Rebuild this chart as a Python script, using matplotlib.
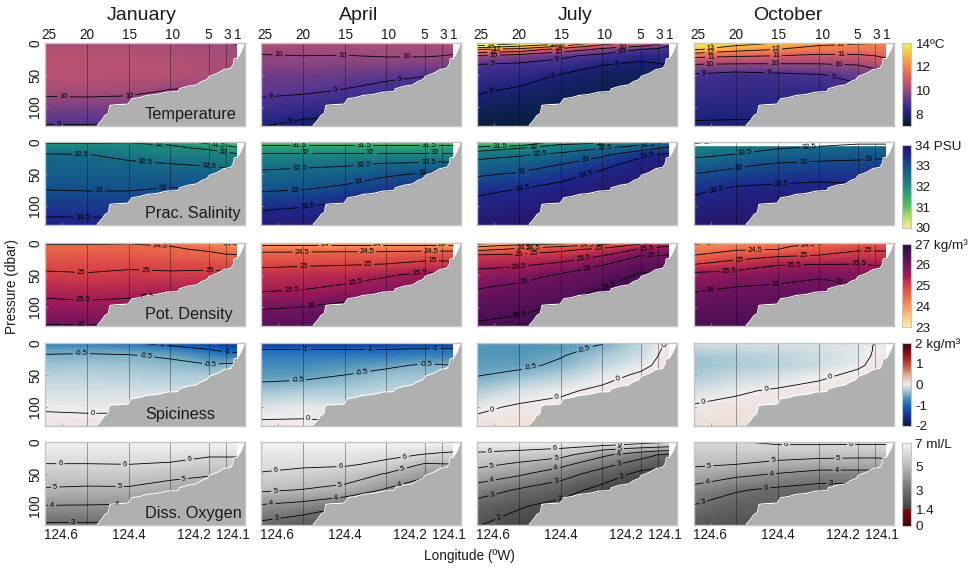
import matplotlib
matplotlib.use('Agg')
import numpy as np
import matplotlib.pyplot as plt
from matplotlib.colors import LinearSegmentedColormap, Normalize
from matplotlib.cm import ScalarMappable

plt.rcParams['font.family'] = ['Liberation Sans', 'DejaVu Sans']

MONTHS = ['January', 'April', 'July', 'October']
ROW_NAMES = ['Temperature', 'Prac. Salinity', 'Pot. Density', 'Spiciness', 'Diss. Oxygen']

STATIONS = ['25', '20', '15', '10', '5', '3', '1']
STATION_LON = [124.649, 124.529, 124.409, 124.291, 124.18, 124.131, 124.10]
PRESSURE = [0, 5, 10, 20, 35, 50, 75, 100, 130]

FLOOR_LON = [124.077, 124.084, 124.091, 124.099, 124.108, 124.110, 124.117, 124.137, 124.153,
             124.167, 124.179, 124.185, 124.201, 124.215, 124.239, 124.265, 124.268, 124.301,
             124.329, 124.358, 124.377, 124.401, 124.411, 124.449, 124.463, 124.468, 124.477,
             124.487, 124.499]
FLOOR_P = [0, 10.4, 18.2, 25, 26, 33.8, 40.6, 42.6, 47.8, 51, 53, 58.2, 61.4, 66.6, 68.6, 72.8,
           77, 78, 81.6, 83.2, 86.3, 88.4, 96.7, 97.8, 98.8, 111.8, 114.4, 122.2, 130]

TEMP_JAN = [[10.2, 10.2, 10.2, 10.15, 10.1, 10.02, 9.95],
            [10.3, 10.3, 10.3, 10.25, 10.2, 10.15, 10.05],
            [10.4, 10.4, 10.35, 10.3, 10.25, 10.2, 10.1],
            [10.5, 10.5, 10.45, 10.4, 10.3, 10.25, 10.2],
            [10.55, 10.55, 10.5, 10.45, 10.35, 10.3, 10.25],
            [10.55, 10.55, 10.5, 10.45, 10.35, 10.3, 10.25],
            [10.22, 10.25, 10.2, 9.95, 9.9, 9.8, 9.8],
            [9.6, 9.6, 9.55, 9.5, 9.4, 9.3, 9.3],
            [8.95, 8.95, 8.9, 8.9, 8.9, 8.9, 8.9]]
TEMP_APR = [[10.4, 10.4, 10.4, 10.4, 10.4, 10.4, 10.4],
            [10.3, 10.3, 10.3, 10.3, 10.3, 10.3, 10.3],
            [10.2, 10.2, 10.2, 10.2, 10.2, 10.2, 10.2],
            [9.95, 10.0, 9.98, 10.05, 10.05, 10.0, 9.95],
            [9.75, 9.75, 9.7, 9.65, 9.6, 9.55, 9.5],
            [9.45, 9.42, 9.35, 9.2, 9.05, 9.0, 8.95],
            [9.2, 9.12, 8.95, 8.7, 8.5, 8.5, 8.5],
            [8.7, 8.55, 8.4, 8.3, 8.2, 8.1, 8.1],
            [8.05, 7.7, 7.6, 7.6, 7.6, 7.6, 7.6]]
TEMP_JUL = [[14.6, 14.3, 13.5, 11.6, 10.6, 10.3, 9.9],
            [13.9, 13.0, 12.0, 10.5, 10.0, 9.5, 9.0],
            [12.0, 11.7, 10.6, 9.8, 9.0, 8.8, 8.7],
            [10.0, 9.6, 9.2, 8.7, 8.3, 8.35, 8.4],
            [8.9, 8.8, 8.6, 8.0, 7.8, 7.9, 8.0],
            [8.55, 8.4, 7.95, 7.7, 7.6, 7.65, 7.7],
            [8.1, 7.85, 7.7, 7.5, 7.4, 7.4, 7.4],
            [7.7, 7.55, 7.45, 7.3, 7.25, 7.25, 7.25],
            [7.25, 7.2, 7.15, 7.1, 7.1, 7.1, 7.1]]
TEMP_OCT = [[14.0, 13.5, 13.0, 12.4, 12.1, 12.05, 12.05],
            [13.6, 12.9, 12.5, 11.9, 11.8, 11.8, 11.8],
            [13.15, 12.35, 12.0, 11.7, 11.6, 11.55, 11.6],
            [11.25, 11.1, 11.0, 10.8, 10.85, 11.0, 11.15],
            [9.85, 9.8, 9.8, 9.85, 9.97, 10.3, 10.5],
            [8.9, 8.65, 8.8, 8.95, 9.3, 9.45, 9.5],
            [8.6, 8.5, 8.45, 8.45, 8.7, 8.9, 9.0],
            [8.25, 8.2, 8.2, 8.2, 8.3, 8.3, 8.3],
            [7.9, 7.9, 7.9, 7.9, 7.9, 7.9, 7.9]]

SAL_JAN = [[31.95, 31.95, 31.97, 31.7, 31.35, 31.2, 31.1],
           [32.05, 32.05, 32.07, 32.0, 31.6, 31.45, 31.35],
           [32.2, 32.2, 32.15, 32.08, 31.95, 31.75, 31.6],
           [32.55, 32.52, 32.35, 32.2, 32.2, 32.15, 32.1],
           [32.68, 32.66, 32.6, 32.52, 32.45, 32.4, 32.35],
           [32.8, 32.78, 32.75, 32.73, 32.7, 32.68, 32.65],
           [33.0, 32.98, 32.98, 33.05, 33.05, 33.05, 33.05],
           [33.3, 33.28, 33.28, 33.3, 33.3, 33.3, 33.3],
           [33.65, 33.65, 33.65, 33.65, 33.65, 33.65, 33.65]]
SAL_APR = [[31.1, 31.1, 31.1, 31.1, 31.1, 31.1, 31.1],
           [31.5, 31.5, 31.5, 31.5, 31.5, 31.5, 31.5],
           [31.75, 31.75, 31.75, 31.75, 31.75, 31.75, 31.75],
           [32.1, 32.1, 32.1, 32.1, 32.1, 32.1, 32.1],
           [32.35, 32.4, 32.45, 32.55, 32.6, 32.63, 32.6],
           [32.6, 32.65, 32.7, 32.92, 33.05, 33.1, 33.1],
           [32.95, 33.0, 33.15, 33.35, 33.4, 33.45, 33.45],
           [33.4, 33.47, 33.6, 33.7, 33.75, 33.75, 33.75],
           [33.8, 33.85, 33.9, 33.9, 33.9, 33.9, 33.9]]
SAL_JUL = [[31.1, 31.2, 31.6, 31.9, 32.25, 32.35, 32.6],
           [31.3, 31.4, 32.1, 32.2, 32.5, 32.7, 32.85],
           [31.7, 32.0, 32.25, 32.5, 32.8, 33.0, 33.1],
           [32.35, 32.45, 32.62, 32.9, 33.4, 33.55, 33.6],
           [32.65, 32.75, 33.0, 33.35, 33.7, 33.75, 33.8],
           [32.92, 33.05, 33.3, 33.6, 33.8, 33.85, 33.85],
           [33.4, 33.52, 33.7, 33.85, 33.9, 33.9, 33.9],
           [33.65, 33.75, 33.85, 33.95, 33.95, 33.95, 33.95],
           [33.9, 33.95, 34.0, 34.0, 34.0, 34.0, 34.0]]
SAL_OCT = [[31.95, 32.1, 32.2, 32.3, 32.4, 32.4, 32.4],
           [32.05, 32.25, 32.35, 32.45, 32.55, 32.55, 32.55],
           [32.2, 32.38, 32.48, 32.6, 32.65, 32.65, 32.65],
           [32.4, 32.52, 32.7, 32.8, 32.85, 32.87, 32.88],
           [32.7, 32.9, 33.05, 33.1, 33.12, 33.15, 33.15],
           [33.0, 33.15, 33.25, 33.35, 33.35, 33.4, 33.4],
           [33.4, 33.6, 33.65, 33.65, 33.6, 33.6, 33.6],
           [33.7, 33.8, 33.8, 33.8, 33.8, 33.8, 33.8],
           [33.9, 33.9, 33.9, 33.9, 33.9, 33.9, 33.9]]

DENS_JAN = [[24.45, 24.45, 24.48, 24.35, 24.15, 23.95, 23.85],
            [24.55, 24.55, 24.55, 24.5, 24.3, 24.2, 24.1],
            [24.6, 24.6, 24.6, 24.55, 24.45, 24.35, 24.3],
            [24.7, 24.7, 24.7, 24.65, 24.6, 24.55, 24.55],
            [24.9, 24.87, 24.92, 24.9, 24.9, 24.85, 24.85],
            [25.07, 25.04, 25.1, 25.07, 25.1, 25.1, 25.1],
            [25.37, 25.33, 25.37, 25.43, 25.45, 25.45, 25.45],
            [25.65, 25.62, 25.65, 25.7, 25.7, 25.7, 25.7],
            [26.03, 26.02, 26.05, 26.05, 26.05, 26.05, 26.05]]
DENS_APR = [[23.9, 23.9, 23.9, 23.9, 23.9, 23.9, 23.9],
            [24.1, 24.1, 24.1, 24.1, 24.1, 24.1, 24.1],
            [24.38, 24.38, 24.38, 24.38, 24.38, 24.38, 24.38],
            [24.65, 24.67, 24.7, 24.72, 24.82, 24.82, 24.8],
            [24.93, 24.97, 25.0, 25.05, 25.15, 25.15, 25.15],
            [25.2, 25.25, 25.3, 25.45, 25.6, 25.6, 25.6],
            [25.48, 25.52, 25.65, 25.8, 25.9, 25.95, 25.95],
            [25.95, 26.0, 26.15, 26.2, 26.3, 26.3, 26.3],
            [26.3, 26.35, 26.4, 26.4, 26.4, 26.4, 26.4]]
DENS_JUL = [[23.3, 23.6, 23.8, 24.2, 24.9, 25.0, 25.05],
            [23.9, 24.3, 24.45, 24.8, 25.2, 25.4, 25.5],
            [24.35, 24.6, 24.9, 25.1, 25.55, 25.7, 25.75],
            [25.1, 25.15, 25.2, 25.5, 26.0, 26.0, 26.05],
            [25.4, 25.45, 25.65, 26.0, 26.3, 26.3, 26.3],
            [25.65, 25.8, 26.05, 26.25, 26.55, 26.55, 26.55],
            [26.05, 26.2, 26.3, 26.55, 26.7, 26.75, 26.75],
            [26.35, 26.4, 26.55, 26.7, 26.8, 26.8, 26.8],
            [26.55, 26.62, 26.75, 26.8, 26.85, 26.85, 26.85]]
DENS_OCT = [[23.9, 24.15, 24.3, 24.45, 24.6, 24.65, 24.65],
            [24.15, 24.3, 24.45, 24.6, 24.78, 24.8, 24.8],
            [24.3, 24.45, 24.5, 24.75, 24.95, 24.95, 24.95],
            [24.52, 24.8, 24.95, 25.03, 25.15, 25.15, 25.15],
            [25.05, 25.25, 25.5, 25.55, 25.55, 25.5, 25.5],
            [25.65, 25.7, 25.8, 25.95, 25.85, 25.85, 25.85],
            [25.97, 26.1, 26.15, 26.15, 26.1, 26.1, 26.1],
            [26.25, 26.3, 26.35, 26.35, 26.35, 26.35, 26.35],
            [26.5, 26.5, 26.5, 26.5, 26.5, 26.5, 26.5]]

SPICE_JAN = [[-0.85, -0.85, -0.95, -1.2, -1.5, -1.6, -1.65],
             [-0.75, -0.75, -0.8, -0.97, -1.2, -1.35, -1.4],
             [-0.6, -0.6, -0.65, -0.8, -1.0, -1.1, -1.15],
             [-0.47, -0.45, -0.47, -0.55, -0.75, -0.85, -0.85],
             [-0.35, -0.33, -0.35, -0.4, -0.47, -0.42, -0.4],
             [-0.25, -0.25, -0.27, -0.3, -0.3, -0.3, -0.3],
             [-0.12, -0.12, -0.12, -0.14, -0.15, -0.15, -0.15],
             [-0.02, -0.03, -0.03, -0.04, -0.04, -0.04, -0.04],
             [0.06, 0.06, 0.06, 0.06, 0.06, 0.06, 0.06]]
SPICE_APR = [[-1.55, -1.55, -1.55, -1.55, -1.55, -1.55, -1.55],
             [-1.3, -1.3, -1.3, -1.3, -1.25, -1.25, -1.25],
             [-1.0, -1.0, -1.0, -1.0, -0.93, -0.93, -0.93],
             [-0.85, -0.85, -0.85, -0.85, -0.8, -0.8, -0.8],
             [-0.72, -0.72, -0.65, -0.57, -0.45, -0.47, -0.5],
             [-0.62, -0.6, -0.5, -0.38, -0.35, -0.35, -0.35],
             [-0.35, -0.3, -0.28, -0.22, -0.22, -0.22, -0.22],
             [-0.1, -0.05, -0.08, -0.08, -0.08, -0.08, -0.08],
             [0.05, 0.03, 0.03, 0.03, 0.03, 0.03, 0.03]]
SPICE_JUL = [[-0.62, -0.65, -0.62, -0.52, -0.2, -0.02, 0.05],
             [-0.62, -0.65, -0.62, -0.47, -0.2, -0.03, 0.05],
             [-0.63, -0.65, -0.6, -0.42, -0.2, -0.02, 0.05],
             [-0.63, -0.63, -0.52, -0.32, -0.15, 0.0, 0.05],
             [-0.58, -0.57, -0.44, -0.22, -0.05, 0.03, 0.05],
             [-0.52, -0.42, -0.28, -0.07, 0.03, 0.04, 0.05],
             [-0.3, -0.12, -0.03, 0.04, 0.05, 0.05, 0.05],
             [-0.05, 0.03, 0.05, 0.06, 0.06, 0.06, 0.06],
             [0.08, 0.08, 0.08, 0.08, 0.08, 0.08, 0.08]]
SPICE_OCT = [[-0.12, -0.12, -0.12, -0.1, -0.05, 0.0, 0.03],
             [-0.16, -0.15, -0.14, -0.1, -0.05, 0.01, 0.03],
             [-0.22, -0.2, -0.17, -0.12, -0.06, 0.01, 0.03],
             [-0.33, -0.28, -0.22, -0.15, -0.06, 0.02, 0.03],
             [-0.35, -0.3, -0.24, -0.15, -0.02, 0.03, 0.04],
             [-0.3, -0.2, -0.14, -0.03, 0.03, 0.04, 0.04],
             [-0.14, -0.03, 0.03, 0.05, 0.05, 0.05, 0.05],
             [0.03, 0.06, 0.06, 0.06, 0.06, 0.06, 0.06],
             [0.1, 0.1, 0.1, 0.1, 0.1, 0.1, 0.1]]

OXY_JAN = [[6.85, 6.85, 6.85, 6.85, 6.85, 6.85, 6.85],
           [6.75, 6.75, 6.75, 6.75, 6.75, 6.75, 6.75],
           [6.65, 6.65, 6.65, 6.65, 6.6, 6.6, 6.6],
           [6.4, 6.4, 6.4, 6.35, 6.12, 6.12, 6.12],
           [5.97, 5.97, 6.0, 5.9, 5.6, 5.6, 5.6],
           [5.55, 5.55, 5.55, 5.3, 5.1, 5.1, 5.1],
           [4.9, 4.83, 4.85, 4.55, 4.4, 4.4, 4.4],
           [3.97, 3.95, 3.9, 3.7, 3.7, 3.7, 3.7],
           [2.85, 2.85, 2.85, 2.85, 2.85, 2.85, 2.85]]
OXY_APR = [[6.9, 6.9, 6.9, 6.9, 6.9, 6.9, 6.9],
           [6.8, 6.8, 6.8, 6.8, 6.75, 6.7, 6.7],
           [6.7, 6.7, 6.7, 6.6, 6.4, 6.3, 6.25],
           [6.5, 6.5, 6.45, 6.25, 5.95, 5.85, 5.8],
           [6.2, 6.15, 6.15, 5.75, 4.9, 4.95, 4.97],
           [5.95, 5.75, 5.45, 4.95, 4.2, 4.25, 4.3],
           [5.15, 4.97, 4.75, 3.9, 3.4, 3.4, 3.4],
           [3.9, 3.65, 3.05, 2.9, 2.8, 2.8, 2.8],
           [2.75, 2.3, 2.2, 2.1, 2.1, 2.1, 2.1]]
OXY_JUL = [[6.9, 6.85, 6.8, 6.6, 6.3, 6.2, 6.1],
           [6.6, 6.5, 6.4, 6.1, 5.7, 5.5, 5.4],
           [6.3, 6.2, 6.0, 5.3, 4.85, 4.7, 4.6],
           [5.8, 5.55, 5.35, 4.2, 3.4, 3.0, 2.8],
           [5.25, 4.85, 4.25, 3.35, 2.5, 2.2, 2.1],
           [4.6, 4.15, 3.45, 2.55, 1.75, 1.7, 1.65],
           [3.55, 2.9, 2.4, 1.7, 1.5, 1.5, 1.5],
           [2.55, 2.1, 1.7, 1.5, 1.45, 1.45, 1.45],
           [2.05, 1.6, 1.45, 1.45, 1.45, 1.45, 1.45]]
OXY_OCT = [[5.9, 5.95, 6.15, 6.15, 6.1, 6.1, 6.1],
           [5.85, 5.9, 5.97, 5.97, 5.97, 5.97, 5.97],
           [5.75, 5.8, 5.8, 5.75, 5.7, 5.7, 5.75],
           [5.5, 5.45, 5.35, 5.25, 5.2, 5.2, 5.25],
           [5.15, 5.0, 4.75, 4.6, 4.6, 4.6, 4.6],
           [4.6, 4.25, 3.95, 3.6, 3.6, 3.6, 3.6],
           [3.7, 3.1, 2.8, 2.6, 2.6, 2.6, 2.6],
           [2.95, 2.5, 2.4, 2.3, 2.3, 2.3, 2.3],
           [2.2, 2.0, 2.0, 2.0, 2.0, 2.0, 2.0]]

TEMP_LEVELS = [8, 9, 10, 11, 12, 13, 14]
SAL_LEVELS = [31.5, 32, 32.5, 33, 33.5]
DENS_LEVELS = [23.5, 24, 24.5, 25, 25.5, 26, 26.5]
SPICE_LEVELS = [-1, -0.5, 0]
OXY_LEVELS = [2, 3, 4, 5, 6]

# contour label spots, in 3x pixels from the top left of each panel (600 x 250)
LABELS = {
    (0, 0): [(56, 162), (252, 158), (40, 242)],
    (0, 1): [(53, 33), (245, 38), (436, 32), (415, 108), (223, 138), (29, 165), (88, 238)],
    (0, 2): [(42, 8), (59, 20), (49, 28), (51, 40), (46, 58), (231, 5), (254, 12), (244, 22),
             (244, 28), (239, 40), (436, 8), (439, 18), (434, 30), (420, 64), (229, 100), (42, 142)],
    (0, 3): [(51, 20), (51, 30), (51, 45), (48, 62), (28, 90), (246, 20), (246, 38), (241, 56),
             (223, 86), (441, 7), (441, 32), (434, 60), (416, 102)],
    (1, 0): [(109, 40), (302, 55), (494, 68), (162, 150), (354, 140), (114, 227), (342, 10),
             (519, 13), (534, 33)],
    (1, 1): [(115, 12), (133, 31), (308, 12), (328, 31), (503, 12), (523, 27), (116, 85), (308, 72),
             (503, 53), (101, 148), (293, 120), (485, 87), (141, 193), (330, 157)],
    (1, 2): [(69, 17), (171, 23), (189, 37), (134, 88), (324, 52), (136, 133), (324, 88), (384, 17),
             (514, 10), (511, 35), (369, 7)],
    (1, 3): [(56, 10), (153, 43), (346, 18), (136, 85), (329, 62), (523, 47), (68, 145), (261, 122)],
    (2, 0): [(344, 7), (544, 7), (109, 92), (302, 82), (494, 80), (114, 171), (306, 160), (108, 245)],
    (2, 1): [(190, 5), (348, 7), (543, 7), (123, 25), (318, 26), (510, 24), (128, 74), (321, 64),
             (515, 52), (93, 146), (283, 120), (475, 87), (151, 190), (343, 150)],
    (2, 2): [(169, 10), (144, 20), (169, 27), (126, 42), (127, 75), (144, 122), (331, 10), (364, 15),
             (319, 45), (331, 77), (509, 5), (511, 20), (521, 34), (399, 135), (129, 218)],
    (2, 3): [(66, 6), (343, 7), (184, 28), (329, 38), (136, 53), (521, 25), (106, 82), (301, 67),
             (494, 65), (51, 140), (244, 120), (436, 117)],
    (3, 0): [(109, 33), (302, 43), (496, 63), (351, 6), (546, 27), (142, 215)],
    (3, 1): [(133, 22), (328, 20), (523, 17), (111, 120), (303, 90), (495, 61), (141, 213)],
    (3, 2): [(324, 20), (161, 78), (47, 200), (239, 162), (422, 103), (536, 9)],
    (3, 3): [(28, 174), (216, 138), (408, 98)],
    (4, 0): [(46, 67), (240, 64), (434, 52), (31, 139), (224, 135), (417, 112), (21, 190), (216, 182),
             (84, 248)],
    (4, 1): [(46, 99), (239, 76), (430, 37), (43, 148), (236, 123), (425, 79), (31, 186), (224, 156),
             (413, 117), (46, 228)],
    (4, 2): [(39, 30), (234, 20), (429, 14), (46, 78), (237, 42), (429, 27), (46, 118), (237, 77),
             (426, 39), (47, 162), (237, 114), (424, 59), (67, 230), (247, 160), (431, 97)],
    (4, 3): [(276, 10), (471, 9), (46, 79), (238, 60), (433, 48), (41, 122), (234, 95), (428, 78),
             (28, 182), (216, 137), (409, 117)],
}


def rgb_map(name, stops):
    cols = [(pos, (r / 255, g / 255, b / 255)) for pos, (r, g, b) in stops]
    return LinearSegmentedColormap.from_list(name, cols, N=512)


thermal = rgb_map('thermal', [(0, (5, 25, 45)), (0.07, (12, 32, 78)), (0.15, (30, 35, 125)),
                              (0.28, (75, 50, 145)), (0.43, (150, 72, 125)), (0.57, (215, 90, 100)),
                              (0.71, (245, 130, 75)), (0.86, (250, 190, 65)), (1, (238, 243, 95))])
haline = rgb_map('haline', [(0, (250, 235, 150)), (0.13, (190, 220, 110)), (0.25, (95, 195, 100)),
                            (0.38, (50, 170, 115)), (0.5, (30, 140, 125)), (0.63, (22, 108, 135)),
                            (0.75, (20, 80, 140)), (0.88, (30, 40, 140)), (1, (40, 20, 105))])
matter = rgb_map('matter', [(0, (254, 235, 175)), (0.12, (250, 200, 130)), (0.25, (245, 150, 90)),
                            (0.38, (235, 105, 75)), (0.5, (215, 65, 70)), (0.62, (165, 30, 85)),
                            (0.75, (115, 20, 95)), (0.88, (75, 15, 85)), (1, (40, 15, 60))])
balance = rgb_map('balance', [(0, (20, 20, 70)), (0.12, (15, 50, 150)), (0.25, (20, 100, 190)),
                              (0.35, (90, 155, 185)), (0.43, (175, 205, 215)), (0.5, (240, 236, 236)),
                              (0.6, (225, 180, 160)), (0.72, (195, 90, 60)), (0.85, (150, 20, 25)),
                              (1, (55, 5, 15))])
oxy = rgb_map('oxy', [(0, (65, 0, 5)), (0.2, (135, 5, 15)), (0.2001, (65, 65, 65)), (0.45, (115, 115, 115)),
                      (0.72, (185, 185, 185)), (1, (245, 245, 245))])

ROWS = [
    dict(data=[TEMP_JAN, TEMP_APR, TEMP_JUL, TEMP_OCT], levels=TEMP_LEVELS, cmap=thermal, vmin=7, vmax=14,
         top=43, cb_top=43, ticks=[8, 10, 12, 14], ticklabels=['8', '10', '12', '14ºC']),
    dict(data=[SAL_JAN, SAL_APR, SAL_JUL, SAL_OCT], levels=SAL_LEVELS, cmap=haline, vmin=30, vmax=34,
         top=142, cb_top=145, ticks=[30, 31, 32, 33, 34], ticklabels=['30', '31', '32', '33', '34 PSU']),
    dict(data=[DENS_JAN, DENS_APR, DENS_JUL, DENS_OCT], levels=DENS_LEVELS, cmap=matter, vmin=23, vmax=27,
         top=243, cb_top=244, ticks=[23, 24, 25, 26, 27], ticklabels=['23', '24', '25', '26', '27 kg/m³']),
    dict(data=[SPICE_JAN, SPICE_APR, SPICE_JUL, SPICE_OCT], levels=SPICE_LEVELS, cmap=balance, vmin=-2, vmax=2,
         top=343, cb_top=343, ticks=[-2, -1, 0, 1, 2], ticklabels=['-2', '-1', '0', '1', '2 kg/m³']),
    dict(data=[OXY_JAN, OXY_APR, OXY_JUL, OXY_OCT], levels=OXY_LEVELS, cmap=oxy, vmin=0, vmax=7,
         top=442, cb_top=443, ticks=[0, 1.4, 3, 5, 7], ticklabels=['0', '1.4', '3', '5', '7 ml/L']),
]

W, H = 977, 568
COL_LEFT = [45, 261, 477, 694]
PANEL_W, PANEL_H = 200, 83
LON_LIM = (124.6486, 124.0771)
P_LIM = (130, 0)
STATION_TEXT_X = [4, 42, 85, 128, 163, 182, 193]
LON_TEXT = ['124.6', '124.4', '124.2', '124.1']
LON_TEXT_X = [16, 84, 149, 188]
EDGE = '#c4c4c4'
LAND = '#b0b0b0'
TEXT = '#1a1a1a'


def px_axes(left, top, w, h):
    return fig.add_axes([left / W, 1 - (top + h) / H, w / W, h / H])


fig = plt.figure(figsize=(9.77, 5.68), dpi=100)

for r, row in enumerate(ROWS):
    for c, values in enumerate(row['data']):
        ax = px_axes(COL_LEFT[c], row['top'], PANEL_W, PANEL_H)
        ax.set_xlim(*LON_LIM)
        ax.set_ylim(*P_LIM)
        field = np.array(values)
        fill_levels = np.linspace(row['vmin'], row['vmax'], 141)
        ax.contourf(STATION_LON, PRESSURE, field, levels=fill_levels, cmap=row['cmap'],
                    vmin=row['vmin'], vmax=row['vmax'], extend='both', zorder=1)
        if r == 1 and c == 3:
            ax.axhspan(0, 4, color='white', zorder=1.5)
        for lon in STATION_LON[1:6]:
            ax.plot([lon, lon], [0, 130], color='black', lw=0.7, alpha=0.35, zorder=2)
        cs = ax.contour(STATION_LON, PRESSURE, field, levels=row['levels'], colors='black',
                        linewidths=0.6, linestyles='solid', zorder=3)
        spots = [(LON_LIM[0] + x / 600 * (LON_LIM[1] - LON_LIM[0]), y / 250 * 130)
                 for x, y in LABELS[(r, c)]]
        ax.clabel(cs, fmt='%g', fontsize=5.5, inline=True, inline_spacing=2, manual=spots)

        ax.plot(FLOOR_LON, np.array(FLOOR_P) - 1, color='white', lw=0.8, zorder=4)
        ax.fill(FLOOR_LON + [LON_LIM[1], LON_LIM[1]], FLOOR_P + [130, 0], color=LAND, lw=0, zorder=5)

        ax.set_xticks([124.6, 124.5, 124.4, 124.3, 124.2, 124.1])
        ax.set_yticks([0, 50, 100])
        ax.tick_params(direction='in', length=2, width=0.5, color='#909090', right=True,
                       labelbottom=False, labelleft=False)
        for side in ax.spines.values():
            side.set_color(EDGE)
            side.set_linewidth(1)
            side.set_zorder(6)

        if c == 0:
            for val, y in zip([0, 50, 100], [43, 75, 107]):
                fig.text(35 / W, 1 - (row['top'] - 43 + y) / H, str(val), rotation=90, ha='center',
                         va='center', fontsize=9.8, color=TEXT)
            ax.text(0.5, 0.14, ROW_NAMES[r], transform=ax.transAxes, fontsize=11.7, color=TEXT,
                    ha='left', va='center', zorder=8)
        if r == 0:
            for name, x in zip(STATIONS, STATION_TEXT_X):
                fig.text((COL_LEFT[c] + x) / W, 1 - 35 / H, name, ha='center', va='center',
                         fontsize=9.8, color=TEXT)
        if r == 4:
            for name, x in zip(LON_TEXT, LON_TEXT_X):
                fig.text((COL_LEFT[c] + x) / W, 1 - 535 / H, name, ha='center', va='center',
                         fontsize=9.8, color=TEXT)

    cax = px_axes(902, row['cb_top'], 9, 83)
    mappable = ScalarMappable(norm=Normalize(row['vmin'], row['vmax']), cmap=row['cmap'])
    cb = fig.colorbar(mappable, cax=cax)
    cb.set_ticks(row['ticks'], labels=row['ticklabels'])
    cb.ax.tick_params(length=0, pad=3, labelsize=9.7, labelcolor=TEXT)
    cb.outline.set_edgecolor(EDGE)
    cb.outline.set_linewidth(0.8)

for name, x in zip(MONTHS, [142, 358.5, 575, 788]):
    fig.text(x / W, 1 - 15 / H, name, ha='center', va='center', fontsize=14, color=TEXT)

fig.text(12 / W, 1 - 286 / H, 'Pressure (dbar)', rotation=90, ha='center', va='center',
         fontsize=9.8, color=TEXT)
fig.text(469 / W, 1 - 556 / H, 'Longitude (ºW)', ha='center', va='center', fontsize=9.8, color=TEXT)

fig.savefig('out.png', dpi=100)
